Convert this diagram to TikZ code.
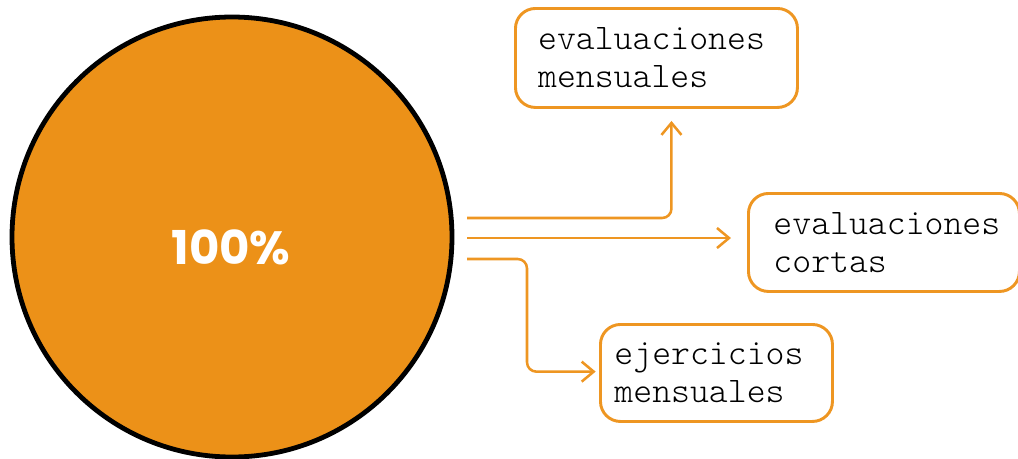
\documentclass[tikz,border=0pt]{standalone}
\usepackage{fontspec}
\setmonofont{Latin Modern Mono Light}
\newfontfamily\pctfont{Poppins}
\usetikzlibrary{arrows.meta,positioning}
\definecolor{naranja}{RGB}{236,145,24}
\definecolor{bordeNaranja}{RGB}{238,150,34}
\tikzset{
  caja/.style={draw=bordeNaranja, line width=2.2pt, rounded corners=15pt, fill=white,
    anchor=north west, align=left, font=\ttfamily\fontsize{27}{28.5}\selectfont,
    inner ysep=0pt},
  flecha/.style={draw=bordeNaranja, line width=1.9pt, rounded corners=7pt,
    -{Straight Barb[length=9pt,width=15pt,line width=1.9pt]}}
}
\begin{document}
\begin{tikzpicture}[x=0.75pt,y=0.75pt,yscale=-1,xscale=1]
\useasboundingbox (0,0) rectangle (1018,458);

%Shape: Circle
\draw [fill=naranja, line width=3.6pt] (232,237) circle [radius=220*0.75pt];
% Text Node
\node (pct) at (231,247) [text=white, font=\pctfont\bfseries\fontsize{35}{40}\selectfont] {100\%};

% Text Node
\node (evm) [caja, minimum width=211.5pt, minimum height=74.25pt, inner xsep=17pt, text width=177.5pt] at (514,7) {evaluaciones\\mensuales};
% Text Node
\node (evc) [caja, minimum width=203.25pt, minimum height=73.5pt, inner xsep=18.75pt, text width=165.75pt] at (747,192) {evaluaciones\\cortas};
% Text Node
\node (ejm) [caja, minimum width=174pt, minimum height=72.75pt, inner xsep=10.5pt, text width=153pt] at (599,323) {ejercicios\\mensuales};

% free ends of the connectors
\coordinate (s1) at (467,218);
\coordinate (s2) at (467,238);
\coordinate (s3) at (467,259);
\coordinate (b3) at (527,259);

%Arrows
\draw [flecha, shorten >=9pt] (s1) -| ([xshift=11.25pt]evm.south);
\draw [flecha, shorten >=12pt] (s2) -- (s2 -| evc.west);
\draw [flecha, shorten >=2.5pt] (s3) -- (b3) |- ([yshift=-1pt]ejm.west);

\end{tikzpicture}
\end{document}
